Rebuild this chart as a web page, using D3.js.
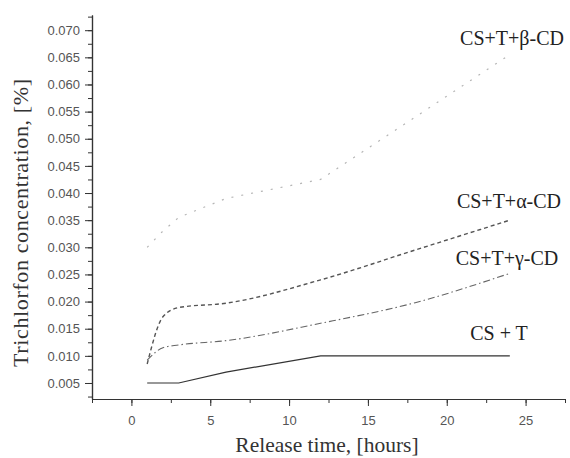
<!DOCTYPE html>
<html><head><meta charset="utf-8">
<script src="https://cdn.jsdelivr.net/npm/d3@7"></script>
<style>body{margin:0;background:#fff}svg{display:block}</style>
</head><body>
<script>
const hours = [1, 2, 3, 6, 12, 18, 24];
const csT   = [0.005, 0.005, 0.005, 0.0070, 0.010, 0.010, 0.010];
const alphaCD = [0.0085, 0.0172, 0.0189, 0.0197, 0.0240, 0.0295, 0.0350];
const gammaCD = [0.0092, 0.0115, 0.0120, 0.0128, 0.0160, 0.0198, 0.0252];
const betaCD  = [0.0300, 0.0330, 0.0355, 0.0390, 0.0425, 0.0540, 0.0655];
const xTicks = [0, 5, 10, 15, 20, 25];
const yTicks = [0.005,0.010,0.015,0.020,0.025,0.030,0.035,0.040,0.045,0.050,0.055,0.060,0.065,0.070];
const seriesNames = ["CS+T+β-CD", "CS+T+α-CD", "CS+T+γ-CD", "CS + T"];

const W = 570, H = 458;
const svg = d3.select("body").append("svg").attr("width", W).attr("height", H);
const x = d3.scaleLinear().domain([-2.5, 27.5]).range([92, 565]);
const y = d3.scaleLinear().domain([0.00205, 0.0728]).range([399, 15]);

// axes
const xMinor = d3.range(-2.5, 27.6, 2.5);
const yMinor = d3.range(0.0025, 0.0726, 0.0025);
const ax = svg.append("g").attr("transform", "translate(0,399)");
ax.call(d3.axisBottom(x).tickValues(xMinor).tickSize(4).tickFormat("").tickSizeOuter(0));
ax.append("g").call(d3.axisBottom(x).tickValues(xTicks).tickSize(7).tickFormat(d3.format("d")).tickSizeOuter(0));
const ay = svg.append("g").attr("transform", "translate(92,0)");
ay.call(d3.axisLeft(y).tickValues(yMinor).tickSize(4).tickFormat("").tickSizeOuter(0));
ay.append("g").call(d3.axisLeft(y).tickValues(yTicks).tickSize(7).tickFormat(d3.format(".3f")).tickSizeOuter(0));
svg.selectAll(".domain").attr("stroke", "#333").attr("stroke-width", 1.2);
svg.selectAll(".tick line").attr("stroke", "#333");
svg.selectAll(".tick text").attr("fill", "#555").attr("font-family", "Liberation Sans, Arial, sans-serif").attr("font-size", 13);
ax.selectAll(".tick text").attr("dy", "1.2em");
ay.selectAll(".tick text").attr("dx", "-2");

// axis titles
svg.append("text").attr("x", 327).attr("y", 452).attr("text-anchor", "middle")
  .attr("font-family", "Liberation Serif, Times New Roman, serif").attr("font-size", 21.5).attr("fill", "#333")
  .text("Release time, [hours]");
svg.append("text").attr("transform", "translate(28,223) rotate(-90)").attr("text-anchor", "middle")
  .attr("font-family", "Liberation Serif, Times New Roman, serif").attr("font-size", 22).attr("fill", "#333")
  .attr("textLength", 288).attr("lengthAdjust", "spacing")
  .text("Trichlorfon concentration, [%]");

// lines
const smooth = d3.line().x(d => x(d[0])).y(d => y(d[1])).curve(d3.curveMonotoneX);
const straight = d3.line().x(d => x(d[0])).y(d => y(d[1]));
const series = [
  {vals: betaCD, stroke: "#b5b5b5", w: 1.2, dash: "2,8", gen: straight},
  {vals: alphaCD, stroke: "#555", w: 1.4, dash: "4,3", gen: smooth},
  {vals: gammaCD, stroke: "#666", w: 1.1, dash: "7,3,1.5,3", gen: smooth},
  {vals: csT, stroke: "#333", w: 1.2, dash: null, gen: straight}
];
series.forEach(s => {
  svg.append("path").datum(hours.map((h, i) => [h, s.vals[i]]))
    .attr("d", s.gen).attr("fill", "none").attr("stroke", s.stroke)
    .attr("stroke-width", s.w).attr("stroke-dasharray", s.dash);
});

// labels
const labelPos = [[512, 45], [509, 208], [507, 265], [499, 340]];
seriesNames.forEach((n, i) => {
  svg.append("text").attr("x", labelPos[i][0]).attr("y", labelPos[i][1]).attr("text-anchor", "middle")
    .attr("font-family", "Liberation Serif, Times New Roman, serif").attr("font-size", 20).attr("fill", "#222")
    .text(n);
});
</script>
</body></html>
